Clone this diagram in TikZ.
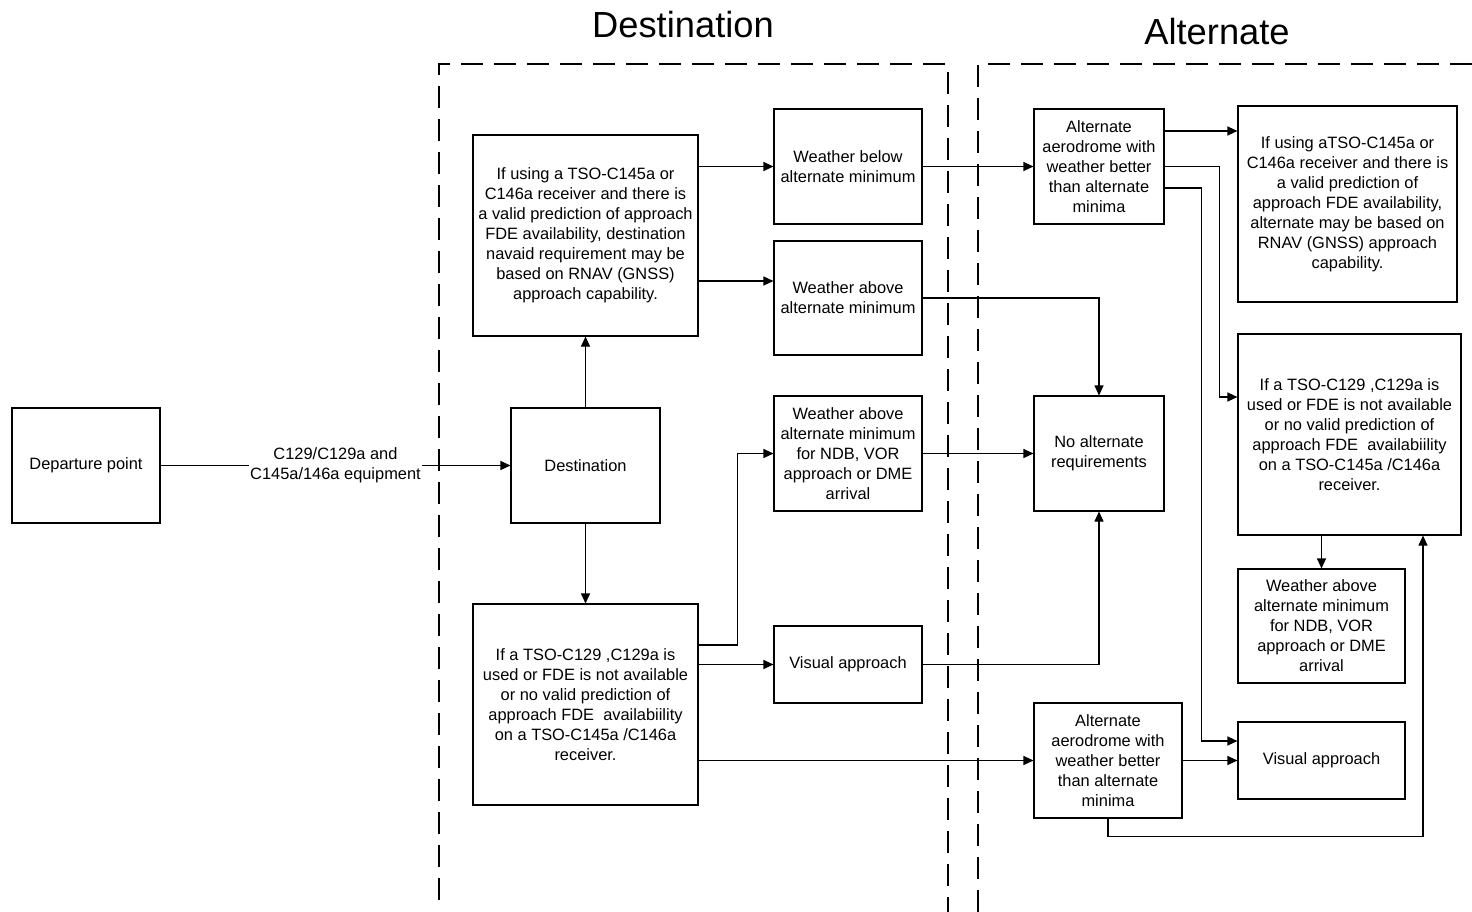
\documentclass[tikz,border=0pt]{standalone}
\usepackage{fontspec}
\setmainfont{Liberation Sans}
\usetikzlibrary{arrows.meta}
\newcommand{\boxfont}{\fontsize{16.4}{20}\selectfont}
\newcommand{\titlefont}{\fontsize{36.3}{42}\selectfont}
\tikzset{
  box/.style={draw, line width=1.1pt, align=center, inner sep=2pt, font=\boxfont},
  arr/.style={-{Triangle[length=10pt,width=9pt]}, line width=1.1pt},
  link/.style={line width=1.1pt},
  zone/.style={line width=2.2pt, dash pattern=on 22pt off 11pt},
  title/.style={font=\titlefont, inner sep=0pt}
}
\begin{document}
\begin{tikzpicture}[x=1pt, y=-1pt]
\useasboundingbox (0,0) rectangle (1472,912);
% zones
\draw [zone] (439,900) -- (439,64) -- (948,64) -- (948,912);
\draw [zone] (978,912) -- (978,64) -- (1472,64);
\node [title] (desttitle) at (683,25) {Destination};
\node [title] (alttitle) at (1217,32) {Alternate};
% boxes
\node [box, minimum width=148, minimum height=115] (dep) at (86,465.5) {Departure point};
\node [box, minimum width=149, minimum height=115] (dest) at (585.5,465.5) {Destination};
\node [box, minimum width=225, minimum height=201] (dfde) at (585.5,235.5) {If using a TSO-C145a or\\C146a receiver and there is\\a valid prediction of approach\\FDE availability, destination\\navaid requirement may be\\based on RNAV (GNSS)\\approach capability.};
\node [box, minimum width=225, minimum height=201] (dnofde) at (585.5,704.5) {If a TSO-C129 ,C129a is\\used or FDE is not available\\or no valid prediction of\\approach FDE \ availabiility\\on a TSO-C145a /C146a\\receiver.};
\node [box, minimum width=148, minimum height=115] (wbelow) at (848,166.5) {Weather below\\alternate minimum};
\node [box, minimum width=148, minimum height=114] (wabove) at (848,298) {Weather above\\alternate minimum};
\node [box, minimum width=148, minimum height=115] (wndb) at (848,453.5) {Weather above\\alternate minimum\\for NDB, VOR\\approach or DME\\arrival};
\node [box, minimum width=148, minimum height=77] (dvis) at (848,664.5) {Visual approach};
\node [box, minimum width=130, minimum height=115] (altA) at (1099,166.5) {Alternate\\aerodrome with\\weather better\\than alternate\\minima};
\node [box, minimum width=130, minimum height=115] (noalt) at (1099,453.5) {No alternate\\requirements};
\node [box, minimum width=148, minimum height=115] (altB) at (1108,760.5) {Alternate\\aerodrome with\\weather better\\than alternate\\minima};
\node [box, minimum width=219, minimum height=196] (altfde) at (1347.5,204) {If using aTSO-C145a or\\C146a receiver and there is\\a valid prediction of\\approach FDE availability,\\alternate may be based on\\RNAV (GNSS) approach\\capability.};
\node [box, minimum width=223, minimum height=201] (altnofde) at (1349.5,434.5) {If a TSO-C129 ,C129a is\\used or FDE is not available\\or no valid prediction of\\approach FDE \ availabiility\\on a TSO-C145a /C146a\\receiver.};
\node [box, minimum width=167, minimum height=114] (altndb) at (1321.5,626) {Weather above\\alternate minimum\\for NDB, VOR\\approach or DME\\arrival};
\node [box, minimum width=167, minimum height=77] (altvis) at (1321.5,760.5) {Visual approach};
% connectors
\draw [arr] (dep) -- node [fill=white, align=center, font=\boxfont, inner sep=1pt] (equip) {C129/C129a and\\C145a/146a equipment} (dest);
\draw [arr] (dest) -- (dfde);
\draw [arr] (dest) -- (dnofde);
\draw [arr] (wbelow.west -| dfde.east) -- (wbelow.west);
\draw [arr] ([yshift=-45.5pt]dfde.east) -- ([yshift=-45.5pt]dfde.east -| wabove.west);
\draw [arr] (wbelow) -- (altA);
\draw [arr] (wabove.east) -| (noalt.north);
\draw [arr] ([yshift=59.5pt]dnofde.east) -- ++(39,0) |- (wndb.west);
\draw [arr] (dvis.west -| dnofde.east) -- (dvis.west);
\draw [arr] (altB.west -| dnofde.east) -- (altB.west);
\draw [arr] (wndb) -- (noalt);
\draw [arr] (dvis.east) -| (noalt.south);
\draw [arr] ([yshift=35.5pt]altA.east) -- ([yshift=35.5pt]altA.east -| altfde.west);
\draw [arr] (altA.east) -- ++(55,0) |- ([yshift=37.5pt]altnofde.west);
\draw [arr] ([yshift=-21.5pt]altA.east) -- ++(37,0) |- ([yshift=19.5pt]altvis.west);
\draw [arr] (altB) -- (altvis);
\draw [arr] (altndb.north |- altnofde.south) -- (altndb.north);
\draw [arr] (altB.south) -- ++(0,18) -| ([xshift=73.5pt]altnofde.south);
\end{tikzpicture}
\end{document}
